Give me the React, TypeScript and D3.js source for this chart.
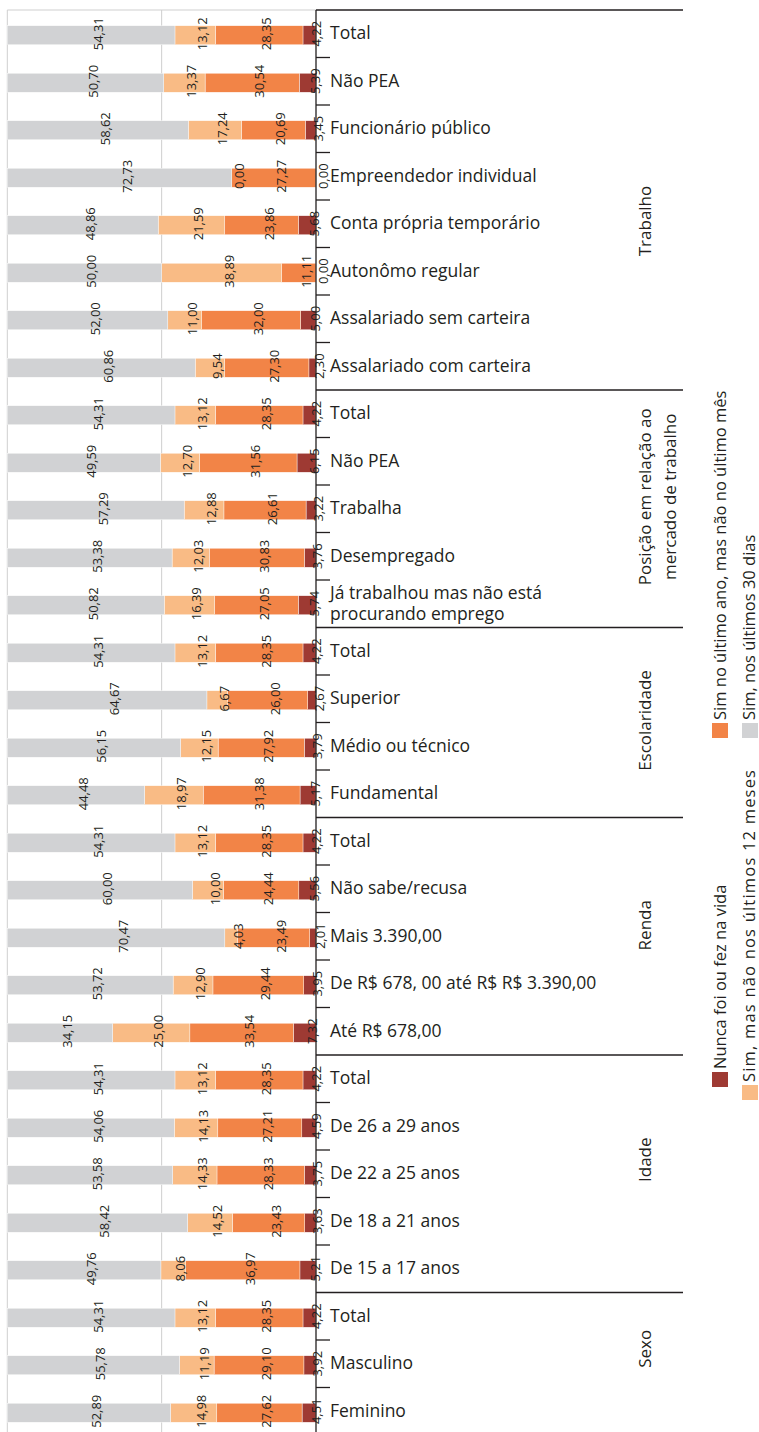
import React from "react";
import * as d3 from "d3";

const categories: string[][] = [
  ["Total"], ["Não PEA"], ["Funcionário público"], ["Empreendedor individual"],
  ["Conta própria temporário"], ["Autonômo regular"], ["Assalariado sem carteira"], ["Assalariado com carteira"],
  ["Total"], ["Não PEA"], ["Trabalha"], ["Desempregado"], ["Já trabalhou mas não está", "procurando emprego"],
  ["Total"], ["Superior"], ["Médio ou técnico"], ["Fundamental"],
  ["Total"], ["Não sabe/recusa"], ["Mais 3.390,00"], ["De R$ 678, 00 até R$ R$ 3.390,00"], ["Até R$ 678,00"],
  ["Total"], ["De 26 a 29 anos"], ["De 22 a 25 anos"], ["De 18 a 21 anos"], ["De 15 a 17 anos"],
  ["Total"], ["Masculino"], ["Feminino"],
];

const groups: string[][] = [
  ["Trabalho"], ["Posição em relação ao", "mercado de trabalho"], ["Escolaridade"], ["Renda"], ["Idade"], ["Sexo"],
];
const groupSizes: number[] = [8, 5, 4, 5, 5, 3];

const nunca: number[] = [4.22, 5.39, 3.45, 0.0, 5.68, 0.0, 5.0, 2.3, 4.22, 6.15, 3.22, 3.76, 5.74, 4.22, 2.67, 3.79, 5.17, 4.22, 5.56, 2.01, 3.95, 7.32, 4.22, 4.59, 3.75, 3.63, 5.21, 4.22, 3.92, 4.51];
const ultimoAno: number[] = [28.35, 30.54, 20.69, 27.27, 23.86, 11.11, 32.0, 27.3, 28.35, 31.56, 26.61, 30.83, 27.05, 28.35, 26.0, 27.92, 31.38, 28.35, 24.44, 23.49, 29.44, 33.54, 28.35, 27.21, 28.33, 23.43, 36.97, 28.35, 29.1, 27.62];
const naoUltimos12: number[] = [13.12, 13.37, 17.24, 0.0, 21.59, 38.89, 11.0, 9.54, 13.12, 12.7, 12.88, 12.03, 16.39, 13.12, 6.67, 12.15, 18.97, 13.12, 10.0, 4.03, 12.9, 25.0, 13.12, 14.13, 14.33, 14.52, 8.06, 13.12, 11.19, 14.98];
const ultimos30: number[] = [54.31, 50.7, 58.62, 72.73, 48.86, 50.0, 52.0, 60.86, 54.31, 49.59, 57.29, 53.38, 50.82, 54.31, 64.67, 56.15, 44.48, 54.31, 60.0, 70.47, 53.72, 34.15, 54.31, 54.06, 53.58, 58.42, 49.76, 54.31, 55.78, 52.89];

const seriesNames: string[] = [
  "Nunca foi ou fez na vida",
  "Sim no último ano, mas não no último mês",
  "Sim, mas não nos últimos 12 meses",
  "Sim, nos últimos 30 dias",
];
const seriesColors: string[] = ["#9e3a33", "#f28447", "#f9bb85", "#d1d2d4"];

const W = 759;
const H = 1432;
const FONT = "'Open Sans', 'Noto Sans', sans-serif";

export default function App() {
  const axisX = 316;
  const leftX = 7.3;
  const top = 10;
  const step = 47.5;
  const n = categories.length;
  const x = d3.scaleLinear().domain([0, 100]).range([axisX, leftX]);
  const y = d3.scaleBand<number>().domain(d3.range(n)).range([top, top + n * step]).paddingInner(0);
  const bw = 19;
  const fmt = (v: number) => v.toFixed(2).replace(".", ",");

  const series = [nunca, ultimoAno, naoUltimos12, ultimos30];
  const table = categories.map((c, i) => {
    let acc = 0;
    const segs = series.map((s, k) => {
      const v = s[i];
      const seg = { k, v, x0: acc, x1: acc + v };
      acc += v;
      return seg;
    });
    return { i, segs };
  });

  const groupStarts: number[] = [];
  let acc = 0;
  groupSizes.forEach((g) => {
    groupStarts.push(acc);
    acc += g;
  });

  const boundaryTicks: number[] = [];
  for (let i = 1; i < n; i++) {
    if (!groupStarts.includes(i)) boundaryTicks.push(i);
  }

  const bandTop = (i: number) => y(i) as number;
  const bandCenter = (i: number) => (y(i) as number) + y.bandwidth() / 2;

  const groupLabelShift = [21, -12, -2, -11, -14, -15];

  const legendItems = [
    { k: 0, sx: 712, sy: 1072, len: 0 },
    { k: 1, sx: 712, sy: 723, len: 0 },
    { k: 2, sx: 742, sy: 1085, len: 312 },
    { k: 3, sx: 742, sy: 723, len: 0 },
  ];

  return (
    <svg width={W} height={H} style={{ position: "absolute", left: 0, top: 0, display: "block", background: "#fff" }} fontFamily={FONT}>
      {/* plot border and gridline */}
      <line x1={leftX} x2={axisX} y1={top} y2={top} stroke="#cfcfcf" strokeWidth={1} />
      <line x1={leftX} x2={leftX} y1={top} y2={H} stroke="#cfcfcf" strokeWidth={1} />
      <line x1={x(50)} x2={x(50)} y1={top} y2={H} stroke="#cfcfcf" strokeWidth={1} />

      {/* bars */}
      {table.map((row) => (
        <g key={"r" + row.i}>
          {row.segs.map((s) => (
            <rect
              key={s.k}
              x={x(s.x1)}
              y={bandCenter(row.i) + 1.5 - bw / 2}
              width={Math.max(0, x(s.x0) - x(s.x1))}
              height={bw}
              fill={seriesColors[s.k]}
              stroke="#ffffff"
              strokeWidth={0.4}
            />
          ))}
        </g>
      ))}

      {/* value labels */}
      {table.map((row) => (
        <g key={"l" + row.i}>
          {row.segs.map((s) => {
            const cx = (x(s.x0) + x(s.x1)) / 2 + 7;
            const cy = bandCenter(row.i);
            return (
              <text
                key={s.k}
                transform={`translate(${cx},${cy}) rotate(-90)`}
                textAnchor="middle"
                dominantBaseline="central"
                fontSize={13}
                fill="#231f20"
              >
                {fmt(s.v)}
              </text>
            );
          })}
        </g>
      ))}

      {/* axis */}
      <line x1={axisX} x2={axisX} y1={top} y2={H} stroke="#231f20" strokeWidth={1.3} />
      {boundaryTicks.map((i) => (
        <line key={"t" + i} x1={axisX} x2={axisX + 14} y1={bandTop(i)} y2={bandTop(i)} stroke="#231f20" strokeWidth={1.3} />
      ))}
      {groupStarts.map((gs, gi) => (
        <line key={"g" + gi} x1={axisX} x2={683} y1={bandTop(gs)} y2={bandTop(gs)} stroke="#231f20" strokeWidth={1.3} />
      ))}

      {/* category labels */}
      {categories.map((lines, i) =>
        lines.map((ln, j) => (
          <text
            key={"c" + i + "_" + j}
            x={330}
            y={bandCenter(i) - 1.5 + (j - (lines.length - 1) / 2) * 20.5}
            fontSize={17.5}
            fill="#231f20"
            dominantBaseline="central"
          >
            {ln}
          </text>
        ))
      )}

      {/* group labels */}
      {groups.map((lines, gi) => {
        const gy = bandTop(groupStarts[gi]) + (groupSizes[gi] * step) / 2 + groupLabelShift[gi];
        return (
          <g key={"gl" + gi} transform={`translate(644,${gy}) rotate(-90)`}>
            {lines.map((ln, j) => (
              <text key={j} x={0} y={j * 25} textAnchor="middle" dominantBaseline="central" fontSize={17} fill="#231f20">
                {ln}
              </text>
            ))}
          </g>
        );
      })}

      {/* legend */}
      {legendItems.map((it) => (
        <g key={"lg" + it.k}>
          <rect x={it.sx} y={it.sy} width={16} height={15} fill={seriesColors[it.k]} />
          <text
            transform={`translate(${it.sx + (it.sx > 730 ? 6.5 : 7.5)},${it.sy - 3}) rotate(-90)`}
            textAnchor="start"
            dominantBaseline="central"
            fontSize={16.5}
            fill="#231f20"
            {...(it.len ? { textLength: it.len, lengthAdjust: "spacing" } : {})}
          >
            {seriesNames[it.k]}
          </text>
        </g>
      ))}
    </svg>
  );
}
